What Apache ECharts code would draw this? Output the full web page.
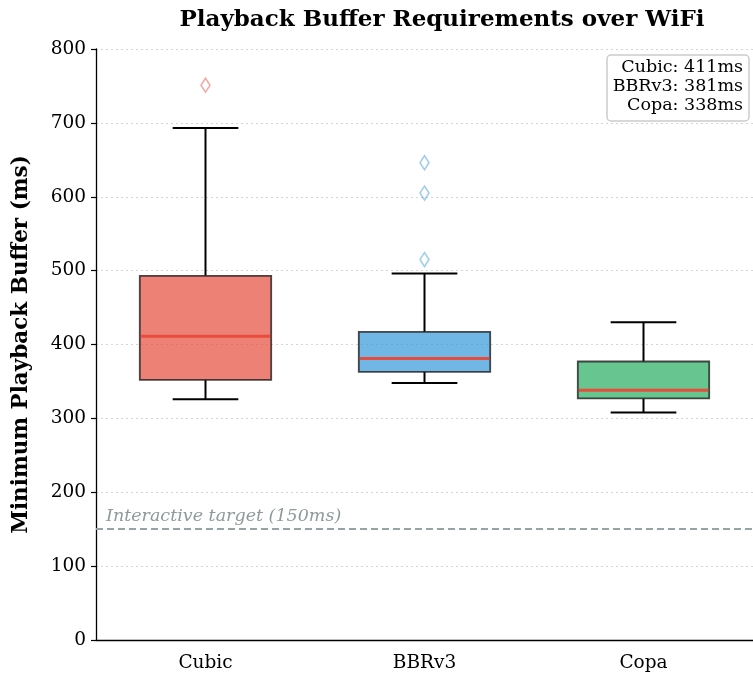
<!DOCTYPE html>
<html>
<head>
<meta charset="utf-8">
<script src="https://cdn.jsdelivr.net/npm/echarts@6/dist/echarts.min.js"></script>
<style>
  html, body { margin: 0; padding: 0; background: #fff; }
  #chart { width: 753px; height: 678px; }
</style>
</head>
<body>
<div id="chart"></div>
<script>
// Congestion-control variants and their playback buffer distributions (ms)
const categories = ['Cubic', 'BBRv3', 'Copa'];
const lowWhisker = [326, 348, 308];
const q1 = [352, 363, 327];
const median = [411, 381, 338];
const q3 = [493, 417, 377];
const highWhisker = [693, 496, 430];
const outliers = [[751], [646, 605, 515], []];
const targetMs = 150;
const yTicks = [0, 100, 200, 300, 400, 500, 600, 700, 800];

const fills = ['rgba(231,76,60,0.7)', 'rgba(52,152,219,0.7)', 'rgba(39,174,96,0.7)'];
const outlierColors = ['rgba(231,76,60,0.6)', 'rgba(52,152,219,0.6)', 'rgba(39,174,96,0.6)'];
const FONT = '"DejaVu Serif", serif';

const boxData = categories.map((c, i) => [i, lowWhisker[i], q1[i], median[i], q3[i], highWhisker[i]]);
const outlierData = [];
outliers.forEach((vals, i) => vals.forEach(v => outlierData.push({ value: [i, v], itemStyle: { borderColor: outlierColors[i] } })));

function renderBox(params, api) {
  const i = api.value(0);
  const band = api.size([1, 0])[0];
  const boxW = band * 0.6;
  const capW = boxW * 0.5;
  const cx = api.coord([i, 0])[0];
  const yLo = api.coord([i, api.value(1)])[1];
  const yQ1 = api.coord([i, api.value(2)])[1];
  const yMed = api.coord([i, api.value(3)])[1];
  const yQ3 = api.coord([i, api.value(4)])[1];
  const yHi = api.coord([i, api.value(5)])[1];
  const black = { stroke: '#000', lineWidth: 2 };
  return {
    type: 'group',
    children: [
      { type: 'line', shape: { x1: cx, y1: yQ3, x2: cx, y2: yHi }, style: black },
      { type: 'line', shape: { x1: cx, y1: yQ1, x2: cx, y2: yLo }, style: black },
      { type: 'line', shape: { x1: cx - capW / 2, y1: yHi, x2: cx + capW / 2, y2: yHi }, style: black },
      { type: 'line', shape: { x1: cx - capW / 2, y1: yLo, x2: cx + capW / 2, y2: yLo }, style: black },
      { type: 'rect', shape: { x: cx - boxW / 2, y: yQ3, width: boxW, height: yQ1 - yQ3 },
        style: { fill: fills[i], stroke: 'rgba(30,30,30,0.8)', lineWidth: 1.8 } },
      { type: 'line', shape: { x1: cx - boxW / 2 + 1, y1: yMed, x2: cx + boxW / 2 - 1, y2: yMed },
        style: { stroke: '#e74c3c', lineWidth: 3 } }
    ]
  };
}

const chart = echarts.init(document.getElementById('chart'), null, { renderer: 'canvas' });
chart.setOption({
  animation: false,
  backgroundColor: '#fff',
  title: {
    text: 'Playback Buffer Requirements over WiFi',
    left: 437, top: 4, textAlign: 'center',
    textStyle: { fontFamily: FONT, fontSize: 23, fontWeight: 'bold', color: '#000' }
  },
  grid: { left: 96, top: 49, width: 660, height: 591, containLabel: false },
  xAxis: {
    type: 'category',
    data: categories,
    boundaryGap: true,
    axisLine: { lineStyle: { color: '#000', width: 1.3 } },
    axisTick: { alignWithLabel: true, length: 5, lineStyle: { color: '#000', width: 1.2 } },
    axisLabel: { fontFamily: FONT, fontSize: 18.5, color: '#000', margin: 14 },
    splitLine: { show: false }
  },
  yAxis: {
    type: 'value',
    min: yTicks[0], max: yTicks[yTicks.length - 1], interval: 100,
    name: 'Minimum Playback Buffer (ms)',
    nameLocation: 'middle', nameGap: 64, nameRotate: 90,
    nameTextStyle: { fontFamily: FONT, fontSize: 21.5, fontWeight: 'bold', color: '#000' },
    axisLine: { show: true, lineStyle: { color: '#000', width: 1.3 } },
    axisTick: { show: true, length: 5, lineStyle: { color: '#000', width: 1.2 } },
    axisLabel: { fontFamily: FONT, fontSize: 18.5, color: '#000', margin: 10 },
    splitLine: { show: true, lineStyle: { color: '#d5d5d5', type: [2, 3], width: 1 } }
  },
  series: [
    {
      type: 'custom',
      renderItem: renderBox,
      data: boxData,
      encode: { x: 0, y: [1, 2, 3, 4, 5] },
      z: 3,
      markLine: {
        silent: true,
        symbol: 'none',
        data: [{ yAxis: targetMs }],
        lineStyle: { color: '#95a5a6', type: [7, 4], width: 2 },
        label: {
          show: true,
          position: 'insideStartTop',
          formatter: 'Interactive target (150ms)',
          fontFamily: FONT, fontStyle: 'italic', fontSize: 17.5, color: '#8e9a9b',
          distance: [10, 4]
        }
      }
    },
    {
      type: 'scatter',
      data: outlierData,
      symbol: 'diamond',
      symbolSize: [9, 14],
      itemStyle: { color: 'rgba(255,255,255,0)', borderWidth: 1.6 },
      z: 4
    }
  ],
  graphic: [
    {
      type: 'rect',
      x: 607, y: 55,
      shape: { width: 142, height: 66, r: 4 },
      style: { fill: 'rgba(255,255,255,0.9)', stroke: '#cccccc', lineWidth: 1.5 },
      z: 10
    },
    {
      type: 'text',
      x: 743, y: 58,
      style: {
        text: categories.map((c, i) => c + ': ' + median[i] + 'ms').join('\n'),
        align: 'right',
        verticalAlign: 'top',
        fontFamily: FONT, fontSize: 17.5, lineHeight: 19, fill: '#000'
      },
      z: 11
    }
  ]
});
</script>
</body>
</html>
